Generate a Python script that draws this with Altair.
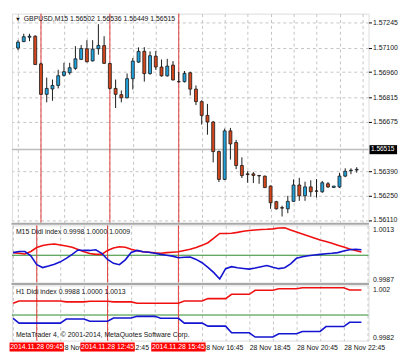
import altair as alt
import pandas as pd

# ---------------- data ----------------
candle_open = [1.57098, 1.57135, 1.57160, 1.57166, 1.57007, 1.56832, 1.56863, 1.56883, 1.56941, 1.56956,
               1.56981, 1.57033, 1.57094, 1.57024, 1.57094, 1.57112, 1.57009, 1.56866, 1.56830, 1.56812,
               1.56922, 1.57017, 1.57079, 1.56951, 1.57051, 1.56989, 1.56938, 1.57000, 1.56905, 1.56905,
               1.56956, 1.56862, 1.56790, 1.56711, 1.56673, 1.56503, 1.56343, 1.56622, 1.56555, 1.56423,
               1.56375, 1.56375, 1.56366, 1.56362, 1.56305, 1.56215, 1.56181, 1.56174, 1.56217, 1.56311,
               1.56249, 1.56300, 1.56277, 1.56272, 1.56318, 1.56297, 1.56300, 1.56362, 1.56393, 1.56397]
candle_high = [1.57143, 1.57180, 1.57180, 1.57171, 1.57013, 1.56928, 1.56917, 1.56973, 1.57013, 1.57013,
               1.57109, 1.57115, 1.57143, 1.57143, 1.57235, 1.57166, 1.57013, 1.56917, 1.56854, 1.56952,
               1.57041, 1.57102, 1.57103, 1.57079, 1.57081, 1.57032, 1.57036, 1.57023, 1.56960, 1.56966,
               1.56962, 1.56883, 1.56798, 1.56777, 1.56679, 1.56509, 1.56635, 1.56639, 1.56570, 1.56470,
               1.56390, 1.56385, 1.56368, 1.56365, 1.56308, 1.56220, 1.56192, 1.56249, 1.56343, 1.56352,
               1.56330, 1.56338, 1.56345, 1.56334, 1.56328, 1.56305, 1.56381, 1.56407, 1.56407, 1.56413]
candle_low = [1.57086, 1.57132, 1.57137, 1.57002, 1.56829, 1.56786, 1.56795, 1.56866, 1.56934, 1.56945,
              1.56973, 1.57030, 1.57016, 1.57021, 1.57060, 1.57007, 1.56860, 1.56753, 1.56786, 1.56809,
              1.56860, 1.57013, 1.56905, 1.56945, 1.56973, 1.56934, 1.56934, 1.56911, 1.56900, 1.56900,
              1.56826, 1.56770, 1.56658, 1.56600, 1.56441, 1.56328, 1.56339, 1.56457, 1.56402, 1.56351,
              1.56324, 1.56322, 1.56318, 1.56294, 1.56174, 1.56170, 1.56130, 1.56149, 1.56215, 1.56220,
              1.56220, 1.56243, 1.56239, 1.56266, 1.56294, 1.56294, 1.56294, 1.56356, 1.56373, 1.56382]
candle_close = [1.57132, 1.57163, 1.57166, 1.57003, 1.56832, 1.56866, 1.56883, 1.56939, 1.56962, 1.56985,
                1.57036, 1.57095, 1.57019, 1.57092, 1.57113, 1.57010, 1.56866, 1.56832, 1.56812, 1.56922,
                1.57023, 1.57079, 1.56951, 1.57054, 1.56989, 1.56938, 1.56994, 1.56915, 1.56904, 1.56952,
                1.56862, 1.56790, 1.56711, 1.56673, 1.56503, 1.56343, 1.56622, 1.56547, 1.56423, 1.56365,
                1.56371, 1.56366, 1.56363, 1.56296, 1.56209, 1.56174, 1.56178, 1.56217, 1.56311, 1.56249,
                1.56300, 1.56272, 1.56275, 1.56324, 1.56300, 1.56305, 1.56362, 1.56390, 1.56396, 1.56401]

m15_red = [1.00012, 1.00009, 1.00006, 1.00017, 1.00035, 1.00044, 1.00049, 1.00051, 1.00047, 1.00042,
           1.00036, 1.00026, 1.00016, 1.00008, 1.00004, 1.00004, 1.00022, 1.00033, 1.00039, 1.00036,
           1.00027, 1.00020, 1.00016, 1.00014, 1.00011, 1.00009, 1.00012, 1.00014, 1.00016, 1.00022,
           1.00027, 1.00035, 1.00045, 1.00057, 1.00078, 1.00099, 1.00099, 1.00100, 1.00104, 1.00109,
           1.00113, 1.00115, 1.00117, 1.00118, 1.00120, 1.00124, 1.00125, 1.00115, 1.00106, 1.00097,
           1.00088, 1.00079, 1.00069, 1.00063, 1.00055, 1.00046, 1.00037, 1.00028, 1.00022, 1.00015]
m15_blue = [1.00012, 1.00017, 1.00017, 0.99997, 0.99957, 0.99944, 0.99951, 0.99959, 0.99970, 0.99986,
            1.00004, 1.00024, 1.00022, 1.00022, 1.00025, 1.00009, 0.99981, 0.99963, 0.99957, 0.99979,
            1.00013, 1.00022, 1.00016, 1.00014, 1.00009, 1.00004, 1.00000, 0.99996, 0.99989, 0.99991,
            0.99992, 0.99981, 0.99966, 0.99945, 0.99921, 0.99892, 0.99939, 0.99948, 0.99943, 0.99940,
            0.99937, 0.99942, 0.99948, 0.99953, 0.99945, 0.99939, 0.99943, 0.99961, 0.99986, 0.99993,
            0.99998, 1.00001, 1.00004, 1.00007, 1.00009, 1.00012, 1.00019, 1.00025, 1.00027, 1.00025]

# hourly (H1) values, one per hour block
h1_red = [1.00080, 1.00095, 1.00095, 1.00089, 1.00093, 1.00089, 1.00080, 1.00080,
          1.00095, 1.00111, 1.00140, 1.00167, 1.00178, 1.00185, 1.00185, 1.00169]
h1_blue = [0.99978, 0.99945, 0.99945, 0.99973, 0.99958, 0.99980, 0.99991, 0.99978,
           0.99945, 0.99925, 0.99880, 0.99851, 0.99873, 0.99889, 0.99922, 0.99951]

price_ticks = [1.57245, 1.57100, 1.56960, 1.56815, 1.56675, 1.56390, 1.56250, 1.56110]
bid_price = 1.56515
header_text = "GBPUSD,M15  1.56502 1.56536 1.56449 1.56515"
m15_text = "M15 Didi index 0.9998 1.0000 1.0009"
h1_text = "H1 Didi index 0.9988 1.0000 1.0013"
copyright_text = "MetaTrader 4, \u00a9 2001-2014, MetaQuotes Software Corp."

time_label_pos = [8, 16, 24, 32, 40, 48, 56]
time_labels = ["28 Nov 10:45", "28 Nov 12:45", "28 Nov 14:45", "28 Nov 16:45",
               "28 Nov 18:45", "28 Nov 20:45", "28 Nov 22:45"]
vline_pos = [4, 16, 28]
vline_labels = ["2014.11.28 09:45", "2014.11.28 12:45", "2014.11.28 15:45"]

# ---------------- styling ----------------
FONT = "Liberation Sans"
TXT = "#141414"
BLUE_BODY = "#22a0da"
RED_BODY = "#d4461b"
GRID = "#c4c4c4"
VLINE = "#e23b3b"
GREEN = "#2a8a2a"
W = 362

n = len(candle_open)
candles = pd.DataFrame({"i": list(range(n)), "open": candle_open, "high": candle_high,
                        "low": candle_low, "close": candle_close})
candles["dir"] = ["up" if c >= o else "down" for o, c in zip(candle_open, candle_close)]

m15 = pd.DataFrame({"i": list(range(n)), "red": m15_red, "blue": m15_blue})
blocks = [0 if i == 0 else (i - 1) // 4 + 1 for i in range(n)]
h1 = pd.DataFrame({"i": list(range(n)), "red": [h1_red[b] for b in blocks],
                   "blue": [h1_blue[b] for b in blocks]})

vl_df = pd.DataFrame({"i": vline_pos, "label": vline_labels})
vl_df["lo"] = vl_df["i"] - 4.6
vl_df["hi"] = vl_df["i"] + 4.6

xscale = alt.Scale(domain=[-0.2, 60.2], nice=False, zero=False)
grid_vals = list(range(0, 61, 4))
x_axis_hidden = alt.Axis(values=grid_vals, labels=False, ticks=False, domain=False, grid=True,
                         gridColor=GRID, gridDash=[3, 3], title=None)

expr = ""
for v, t in zip(time_label_pos, time_labels):
    expr += f"datum.value == {v} ? '{t}' : "
expr += "''"
x_axis_time = alt.Axis(values=grid_vals, labelExpr=expr, ticks=False, domain=False, grid=True,
                       gridColor=GRID, gridDash=[3, 3], labelAlign="left", labelPadding=3,
                       labelFontSize=7, labelColor=TXT, labelOverlap=False, labelFlush=False,
                       labelBound=False, labelFont=FONT, title=None)


def X(field, axis=x_axis_hidden):
    return alt.X(field, type="quantitative", scale=xscale, axis=axis)


def txt(s, x, y, size=7, color=TXT):
    return alt.Chart(pd.DataFrame({"t": [s]})).mark_text(
        align="left", baseline="middle", fontSize=size, font=FONT, color=color
    ).encode(x=alt.value(x), y=alt.value(y), text="t:N")


def separator():
    return alt.Chart(pd.DataFrame({"a": [0]})).mark_rect(color="#a8a8a8").encode(
        x=alt.value(-0.5), x2=alt.value(W + 0.5), y=alt.value(-2.5), y2=alt.value(-0.5))


# ---------------- main price panel ----------------
yscale_main = alt.Scale(domain=[1.56096, 1.57296], nice=False, zero=False)
y_axis_main = alt.Axis(orient="right", values=price_ticks, format=".5f", grid=True, gridColor=GRID,
                       gridDash=[3, 3], domain=False, ticks=True, tickSize=3, tickColor="#000",
                       labelFontSize=7, labelPadding=1, labelColor=TXT, labelFont=FONT, title=None)


def YM(field):
    return alt.Y(field, type="quantitative", scale=yscale_main, axis=y_axis_main)


bid_df = pd.DataFrame({"p": [bid_price]})
bid_df["lo"] = bid_df["p"] - 0.00027
bid_df["hi"] = bid_df["p"] + 0.00025

bid_rule = alt.Chart(bid_df).mark_rule(color="#bdbdbd", strokeWidth=1.5).encode(y=YM("p"))
vrule_main = alt.Chart(vl_df).mark_rule(color=VLINE, strokeWidth=1).encode(x=X("i"))
wicks = alt.Chart(candles).mark_rule(color="#1a1a1a", strokeWidth=1).encode(
    x=X("i"), y=YM("low"), y2="high")
bodies = alt.Chart(candles).mark_bar(size=3, stroke="#1a1a1a", strokeWidth=0.8).encode(
    x=X("i"), y=YM("open"), y2="close",
    color=alt.Color("dir:N", scale=alt.Scale(domain=["up", "down"], range=[BLUE_BODY, RED_BODY]),
                    legend=None))
bid_box = alt.Chart(bid_df).mark_rect(color="#000").encode(
    x=alt.value(W + 1), x2=alt.value(W + 29), y=YM("lo"), y2="hi")
bid_lbl = alt.Chart(bid_df).mark_text(color="#fff", fontSize=6.6, font=FONT, align="left",
                                      baseline="middle").encode(
    x=alt.value(W + 2.5), y=YM("p"), text=alt.Text("p:Q", format=".5f"))

main = alt.layer(
    bid_rule, vrule_main, wicks, bodies,
    txt("\u25bc", 3, 5.5, size=6), txt(header_text, 12, 5.5),
    bid_box, bid_lbl,
).properties(width=W, height=212)

# ---------------- M15 Didi panel ----------------
y2scale = alt.Scale(domain=[0.99876, 1.00136], nice=False, zero=False)
y2axis = alt.Axis(orient="right", values=[0.99876, 1.00136],
                  labelExpr="datum.value > 1 ? '1.0013' : '0.9987'", labelFlush=True,
                  grid=False, domain=False, ticks=False, labelPadding=4, labelFontSize=7,
                  labelColor=TXT, labelFont=FONT, title=None)


def Y2(field):
    return alt.Y(field, type="quantitative", scale=y2scale, axis=y2axis)


one_df = pd.DataFrame({"v": [1.0]})
p2 = alt.layer(
    separator(),
    alt.Chart(one_df).mark_rule(color=GREEN, strokeWidth=1).encode(y=Y2("v")),
    alt.Chart(vl_df).mark_rule(color=VLINE, strokeWidth=1).encode(x=X("i")),
    alt.Chart(m15).mark_line(color="#f01010", strokeWidth=1.6).encode(x=X("i"), y=Y2("red")),
    alt.Chart(m15).mark_line(color="#1414d2", strokeWidth=1.6).encode(x=X("i"), y=Y2("blue")),
    txt(m15_text, 4, 6.5),
).properties(width=W, height=58)

# ---------------- H1 Didi panel ----------------
y3scale = alt.Scale(domain=[0.99827, 1.00200], nice=False, zero=False)
y3axis = alt.Axis(orient="right", values=[0.99827, 1.00200],
                  labelExpr="datum.value > 1 ? '1.002' : '0.9982'", labelFlush=True,
                  grid=False, domain=False, ticks=False, labelPadding=4, labelFontSize=7,
                  labelColor=TXT, labelFont=FONT, title=None)


def Y3(field):
    return alt.Y(field, type="quantitative", scale=y3scale, axis=y3axis)


p3 = alt.layer(
    separator(),
    alt.Chart(one_df).mark_rule(color=GREEN, strokeWidth=1).encode(
        x=alt.value(0), x2=alt.value(W), y=Y3("v")),
    alt.Chart(vl_df).mark_rule(color=VLINE, strokeWidth=1).encode(x=X("i", axis=x_axis_time)),
    alt.Chart(h1).mark_line(color="#f01010", strokeWidth=1.6).encode(
        x=X("i", axis=x_axis_time), y=Y3("red")),
    alt.Chart(h1).mark_line(color="#1414d2", strokeWidth=1.6).encode(
        x=X("i", axis=x_axis_time), y=Y3("blue")),
    txt(h1_text, 4, 7),
    txt(copyright_text, 4, 50.5),
    alt.Chart(vl_df).mark_rect(color="#ff0000").encode(
        x=X("lo", axis=x_axis_time), x2="hi", y=alt.value(58), y2=alt.value(67)),
    alt.Chart(vl_df).mark_text(color="#fff", fontSize=7, font=FONT, align="center",
                               baseline="middle").encode(
        x=X("i", axis=x_axis_time), y=alt.value(62.5), text="label:N"),
).properties(width=W, height=56)

chart = alt.vconcat(main, p2, p3, spacing=3, bounds="flush").properties(
    padding={"left": 1, "top": 2, "right": 4, "bottom": 4}
).configure_view(stroke="#000", strokeWidth=1).configure(font=FONT, background="white")

chart.save("out.html", embed_options={"renderer": "svg", "actions": False})
